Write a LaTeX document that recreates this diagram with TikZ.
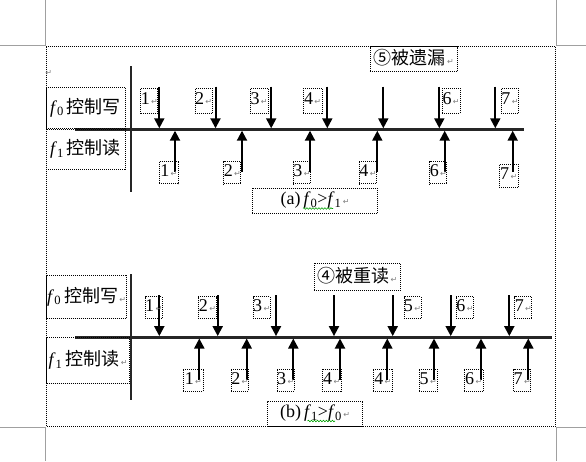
\documentclass[tikz,border=0pt]{standalone}
\usepackage{fontspec}
\setmainfont{Liberation Serif}
\newfontfamily\cjk{Noto Sans CJK SC}
\newfontfamily\symf{DejaVu Sans}
\usetikzlibrary{arrows.meta,calc,decorations.pathmorphing}
\definecolor{pagegray}{HTML}{A0A0A0}
\definecolor{wavegreen}{HTML}{00A000}
\newcommand{\retmark}{{\symf\fontsize{8}{8}\selectfont\textcolor{gray}{\,↵}}}

\begin{document}
\begin{tikzpicture}[x=1pt,y=-1pt,
	numbox/.style={draw,dash pattern=on 1pt off 1pt,line width=0.7pt,inner sep=0pt,
		text height=12pt,text depth=4pt,font=\fontsize{18}{20}\selectfont},
	txtbox/.style={numbox,text height=15pt,text depth=4pt},
	wr/.style={line width=2pt,-{Triangle[length=10pt,width=10pt]},shorten >=1.2pt},
	ax/.style={line width=2.4pt,black!85},
	wave/.style={wavegreen,line width=0.6pt,decorate,decoration={snake,amplitude=0.8pt,segment length=3pt}}]
	\useasboundingbox (0,0) rectangle (586,461);
	
	% page corners and frame
	\draw[pagegray,line width=1pt] (0,45.5) -- (45.5,45.5) -- (45.5,0);
	\draw[pagegray,line width=1pt] (586,45.5) -- (556.5,45.5) -- (556.5,0);
	\draw[pagegray,line width=1pt] (0,427.3) -- (45.5,427.3) -- (45.5,461);
	\draw[pagegray,line width=1pt] (586,427.3) -- (556.5,427.3) -- (556.5,461);
	\draw[dash pattern=on 1pt off 1pt,line width=0.7pt] (46.3,46.7) rectangle (555.5,426);
	\node[inner sep=0pt] (para) at (48,72.7) {\retmark};
	
	% (a) f0 > f1
	\coordinate (aL) at (75,129.5);
	\coordinate (aR) at (524,129.5);
	\coordinate (aT) at (131,66);
	\coordinate (aB) at (131,191.7);
	\draw[ax] (aL) -- (aR);
	\draw[ax] (aT) -- (aB);
	
	\node[txtbox,minimum width=79,minimum height=41] (af0) at (85.5,107.9) {\textit{f}\textsubscript{0}\,{\cjk 控制写}};
	\node[txtbox,minimum width=79,minimum height=40] (af1) at (85.5,149.2) {\textit{f}\textsubscript{1}\,{\cjk 控制读}};
	\node[txtbox,minimum width=87.7,minimum height=25] (lost) at (413.8,59.2) {{\cjk ⑤被遗漏}\retmark};
	
	\foreach \x [count=\i] in {159.3,215.5,271.2,327.3,383.3,439.3,495.3}{
		\coordinate (aw\i) at (\x,86.7);
		\draw[wr] (aw\i) -- (aw\i |- aL);}
	\foreach \x [count=\i] in {175,242,310,377.3,444.7,512.7}{
		\coordinate (ar\i) at (\x,171.7);
		\draw[wr] (ar\i) -- (ar\i |- aL);}
	
	\foreach \t/\x/\w in {1/149.3/16.7,2/203.6/17.3,3/259.1/18.3,4/312.6/18.7,6/451.1/17.7,7/510/17.4}{
		\node[numbox,minimum width=\w,minimum height=25] (awl\t) at (\x,100.8) {\t\retmark};}
	\foreach \t/\x/\w [count=\i] in {1/168.8/19,2/232.3/16.7,3/302/16,4/368/15,6/438.3/16.7}{
		\node[numbox,minimum width=\w,minimum height=22] (arl\i) at (\x,172.6) {\t\retmark};}
	\node[numbox,minimum width=19.3,minimum height=23] (arl6) at (508.7,175.8) {7\retmark};
	
	\node[numbox,minimum width=125.4,minimum height=25.2] (capa) at (315,200.9)
		{(a)\,\textit{f}\textsubscript{0}>\textit{f}\textsubscript{1}\retmark};
	\draw[wave] (303,208.5) -- (333,208.5);
	
	% (b) f1 > f0
	\coordinate (bL) at (75,337.3);
	\coordinate (bR) at (551.7,337.3);
	\coordinate (bT) at (131,274);
	\coordinate (bB) at (131,400);
	\draw[ax] (bL) -- (bR);
	\draw[ax] (bT) -- (bB);
	
	\node[txtbox,minimum width=80,minimum height=43.3] (bf0) at (86.7,296.7) {\textit{f}\textsubscript{0}\,{\cjk 控制写}\retmark};
	\node[txtbox,minimum width=82.6,minimum height=46] (bf1) at (88,360.3) {\textit{f}\textsubscript{1}\,{\cjk 控制读}\retmark};
	\node[txtbox,minimum width=86.7,minimum height=26.7] (again) at (357.3,276.7) {{\cjk ④被重读}\retmark};
	
	\foreach \x [count=\i] in {159.3,217.7,276,334,392.7,450.7,509.3}{
		\coordinate (bw\i) at (\x,295);
		\draw[wr] (bw\i) -- (bw\i |- bL);}
	\foreach \x [count=\i] in {199.3,246.7,293.3,340,387.3,434,481,528.3}{
		\coordinate (br\i) at (\x,380);
		\draw[wr] (br\i) -- (br\i |- bL);}
	
	\foreach \t/\x/\w in {1/153.7/16,2/207.5/18.4,3/261.7/16.7,5/412.5/16.4,6/465/16.6,7/523.3/16}{
		\node[numbox,minimum width=\w,minimum height=22] (bwl\t) at (\x,307.5) {\t\retmark};}
	\foreach \t/\x/\w [count=\i] in {1/193.3/20,2/239.8/15.5,3/285.7/16.7,4/331.7/18.7,4/382.8/19,5/428.2/18.3,6/473.7/19.3,7/522.2/15.7}{
		\node[numbox,minimum width=\w,minimum height=22.5] (brl\i) at (\x,380.2) {\t\retmark};}
	
	\node[numbox,minimum width=95,minimum height=25] (capb) at (315,413.5)
		{(b)\,\textit{f}\textsubscript{1}>\textit{f}\textsubscript{0}\retmark};
	\draw[wave] (307.5,421) -- (335,421);
\end{tikzpicture}
\end{document}
